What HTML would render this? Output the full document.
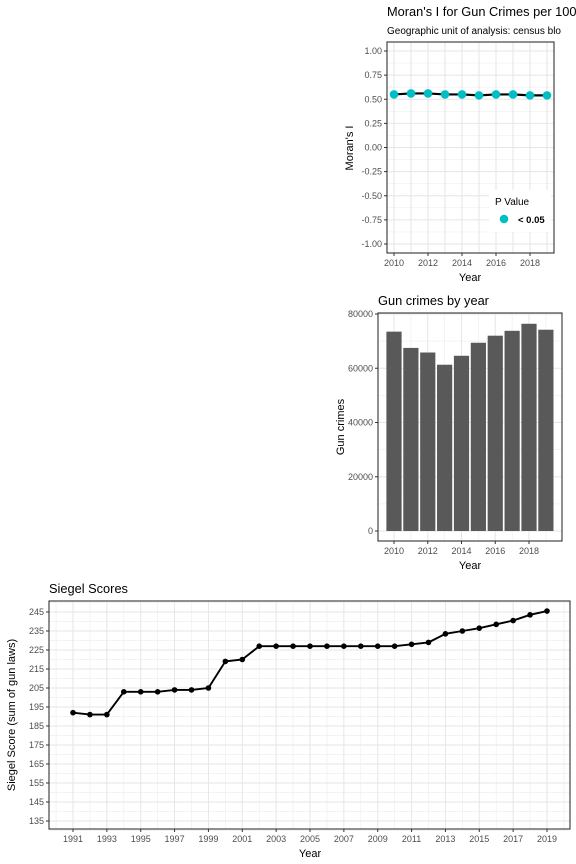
<!DOCTYPE html>
<html><head><meta charset="utf-8"><style>
body{margin:0;background:#fff;}
svg{display:block;font-family:"Liberation Sans",Arial,sans-serif;}
.tick{font-size:9px;fill:#4d4d4d;}
.grid{stroke:#e6e6e6;stroke-width:1;}
.gridm{stroke:#efefef;stroke-width:0.7;}
</style></head><body>
<svg id="c" width="576" height="864"></svg>
<script>
const moranYears=[2010,2011,2012,2013,2014,2015,2016,2017,2018,2019];
const moranValues=[0.55,0.56,0.56,0.55,0.55,0.54,0.55,0.55,0.54,0.54];
const moranTicks=[1,0.75,0.5,0.25,0,-0.25,-0.5,-0.75,-1];
const crimeYears=[2010,2011,2012,2013,2014,2015,2016,2017,2018,2019];
const crimeValues=[73500,67500,65800,61300,64600,69400,72000,73800,76400,74200];
const crimeTicks=[0,20000,40000,60000,80000];
const siegelYears=[1991,1992,1993,1994,1995,1996,1997,1998,1999,2000,2001,2002,2003,2004,2005,2006,2007,2008,2009,2010,2011,2012,2013,2014,2015,2016,2017,2018,2019];
const siegelValues=[192,191,191,203,203,203,204,204,205,219,220,227,227,227,227,227,227,227,227,227,228,229,233.5,235,236.5,238.5,240.5,243.5,245.5];
const siegelTicks=[135,145,155,165,175,185,195,205,215,225,235,245];
const siegelXTicks=[1991,1993,1995,1997,1999,2001,2003,2005,2007,2009,2011,2013,2015,2017,2019];

const NS='http://www.w3.org/2000/svg';
const svg=document.getElementById('c');
function mk(tag,attrs,parent,text){const e=document.createElementNS(NS,tag);for(const k in attrs)e.setAttribute(k,attrs[k]);if(text!==undefined)e.textContent=text;(parent||svg).appendChild(e);return e;}
function lin(d0,d1,r0,r1){return v=>r0+(v-d0)*(r1-r0)/(d1-d0);}

// ---------- Moran panel ----------
{
const g=mk('g',{});


const L=387,R=554,T=42,B=253;
const x=lin(2010,2019,394,547), y=lin(-1,1,244,51);
const t=mk('text',{x:387,y:16,'font-size':12.8,fill:'#000'},g,"Moran's I for Gun Crimes per 100");

const st=mk('text',{x:387,y:34,'font-size':10,fill:'#000'},g,"Geographic unit of analysis: census blo");

for(let i=0;i<moranTicks.length-1;i++){const v=(moranTicks[i]+moranTicks[i+1])/2;mk('line',{x1:L,x2:R,y1:y(v),y2:y(v),class:'gridm'},g);}
for(let yr=2011;yr<=2019;yr+=2)mk('line',{x1:x(yr),x2:x(yr),y1:T,y2:B,class:'grid'},g);
moranTicks.forEach(v=>{mk('line',{x1:L,x2:R,y1:y(v),y2:y(v),class:'grid'},g);
 mk('line',{x1:L-3,x2:L,y1:y(v),y2:y(v),stroke:'#333'},g);
 const tl=mk('text',{x:L-5,y:y(v)+3,'text-anchor':'end',class:'tick'},g,v.toFixed(2));
 });
for(let yr=2010;yr<=2018;yr+=2){mk('line',{x1:x(yr),x2:x(yr),y1:T,y2:B,class:'grid'},g);
 mk('line',{x1:x(yr),x2:x(yr),y1:B,y2:B+3,stroke:'#333'},g);
 const tl=mk('text',{x:x(yr),y:B+13,'text-anchor':'middle',class:'tick'},g,yr);
 }
mk('polyline',{points:moranYears.map((yr,i)=>x(yr)+','+y(moranValues[i])).join(' '),fill:'none',stroke:'#000','stroke-width':2.2},g);
moranYears.forEach((yr,i)=>{const c=mk('circle',{cx:x(yr),cy:y(moranValues[i]),r:4.3,fill:'#00bfc4'},g);
 });
mk('rect',{x:489,y:190,width:62,height:42,fill:'#fff'},g);
const lt=mk('text',{x:495,y:205,'font-size':10,fill:'#000'},g,'P Value');

const lc=mk('circle',{cx:504,cy:219,r:4.3,fill:'#00bfc4'},g);

const le=mk('text',{x:518,y:223,'font-size':9.5,'font-weight':'bold',fill:'#000'},g,'< 0.05');

mk('rect',{x:L,y:T,width:R-L,height:B-T,fill:'none',stroke:'#333','stroke-width':1.1},g);
const xt=mk('text',{x:470,y:281,'text-anchor':'middle','font-size':11,fill:'#000'},g,'Year');

const yt=mk('text',{transform:'translate(353,148) rotate(-90)','text-anchor':'middle','font-size':11,fill:'#000'},g,"Moran's I");

}

// ---------- Bar panel ----------
{
const g=mk('g',{});


const L=378,R=562,T=313,B=541;
const x=lin(2010,2018,394,529), y=lin(0,80000,531,314);
const step=x(2011)-x(2010);
const t=mk('text',{x:378,y:305,'font-size':12.8,fill:'#000'},g,'Gun crimes by year');

for(let i=0;i<crimeTicks.length-1;i++){const v=(crimeTicks[i]+crimeTicks[i+1])/2;mk('line',{x1:L,x2:R,y1:y(v),y2:y(v),class:'gridm'},g);}
for(let yr=2011;yr<=2019;yr+=2)mk('line',{x1:x(yr),x2:x(yr),y1:T,y2:B,class:'gridm'},g);
crimeTicks.forEach(v=>{mk('line',{x1:L,x2:R,y1:y(v),y2:y(v),class:'grid'},g);
 mk('line',{x1:L-3,x2:L,y1:y(v),y2:y(v),stroke:'#333'},g);
 const tl=mk('text',{x:L-5,y:y(v)+3,'text-anchor':'end',class:'tick'},g,v);
 });
for(let yr=2010;yr<=2018;yr+=2){mk('line',{x1:x(yr),x2:x(yr),y1:T,y2:B,class:'grid'},g);
 mk('line',{x1:x(yr),x2:x(yr),y1:B,y2:B+3,stroke:'#333'},g);
 const tl=mk('text',{x:x(yr),y:B+13,'text-anchor':'middle',class:'tick'},g,yr);
 }
crimeYears.forEach((yr,i)=>{const w=step*0.9;const b=mk('rect',{x:x(yr)-w/2,y:y(crimeValues[i]),width:w,height:y(0)-y(crimeValues[i]),fill:'#595959'},g);
 });
mk('rect',{x:L,y:T,width:R-L,height:B-T,fill:'none',stroke:'#333','stroke-width':1.1},g);
const xt=mk('text',{x:470,y:569,'text-anchor':'middle','font-size':11,fill:'#000'},g,'Year');

const yt=mk('text',{transform:'translate(344,427) rotate(-90)','text-anchor':'middle','font-size':11,fill:'#000'},g,'Gun crimes');

}

// ---------- Siegel panel ----------
{
const g=mk('g',{});


const L=49,R=570,T=601,B=829;
const x=lin(1991,2019,73,547), y=lin(135,245,821,612);
const t=mk('text',{x:49,y:593,'font-size':12.8,fill:'#000'},g,'Siegel Scores');

for(let i=0;i<siegelTicks.length-1;i++){const v=(siegelTicks[i]+siegelTicks[i+1])/2;mk('line',{x1:L,x2:R,y1:y(v),y2:y(v),class:'gridm'},g);}
mk('line',{x1:L,x2:R,y1:y(250),y2:y(250),class:'gridm'},g);
mk('line',{x1:L,x2:R,y1:y(130),y2:y(130),class:'gridm'},g);
for(let yr=1990;yr<=2020;yr+=2)mk('line',{x1:x(yr),x2:x(yr),y1:T,y2:B,class:'gridm'},g);
siegelTicks.forEach(v=>{mk('line',{x1:L,x2:R,y1:y(v),y2:y(v),class:'grid'},g);
 mk('line',{x1:L-3,x2:L,y1:y(v),y2:y(v),stroke:'#333'},g);
 const tl=mk('text',{x:L-5,y:y(v)+3,'text-anchor':'end',class:'tick'},g,v);
 });
siegelXTicks.forEach(yr=>{mk('line',{x1:x(yr),x2:x(yr),y1:T,y2:B,class:'grid'},g);
 mk('line',{x1:x(yr),x2:x(yr),y1:B,y2:B+3,stroke:'#333'},g);
 const tl=mk('text',{x:x(yr),y:B+13,'text-anchor':'middle',class:'tick'},g,yr);
 });
mk('polyline',{points:siegelYears.map((yr,i)=>x(yr)+','+y(siegelValues[i])).join(' '),fill:'none',stroke:'#000','stroke-width':1.9},g);
siegelYears.forEach((yr,i)=>{const c=mk('circle',{cx:x(yr),cy:y(siegelValues[i]),r:2.8,fill:'#000'},g);
 });
mk('rect',{x:L,y:T,width:R-L,height:B-T,fill:'none',stroke:'#333','stroke-width':1.1},g);
const xt=mk('text',{x:310,y:857,'text-anchor':'middle','font-size':11,fill:'#000'},g,'Year');

const yt=mk('text',{transform:'translate(15,715) rotate(-90)','text-anchor':'middle','font-size':11,fill:'#000'},g,'Siegel Score (sum of gun laws)');

}
</script>
</body></html>
